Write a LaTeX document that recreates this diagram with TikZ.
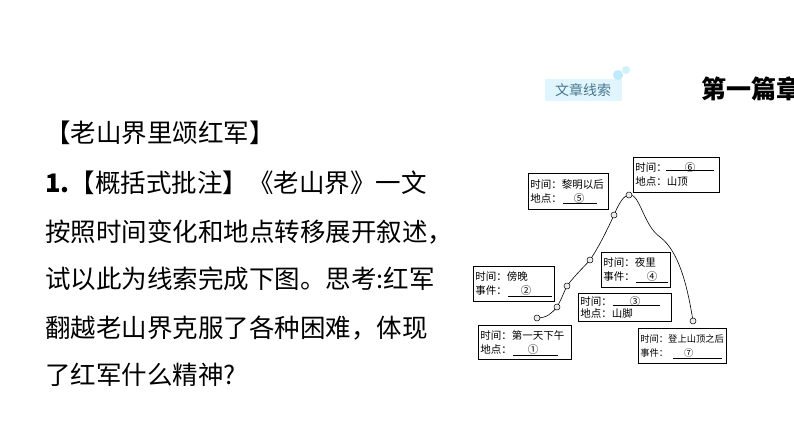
\documentclass[tikz,border=0pt]{standalone}
\usepackage{fontspec}
\newfontfamily\cjk{Noto Sans CJK SC}
\begin{document}
\begin{tikzpicture}[x=1pt,y=-1pt,
  txt/.style={anchor=west,inner sep=0pt,font=\cjk\fontsize{25.5}{28}\selectfont},
  bx/.style={draw,line width=0.6pt,anchor=north west,inner sep=2pt,align=left,font=\cjk\fontsize{10.5}{14}\selectfont},
  dot/.style={circle,draw,fill=gray!15,inner sep=0pt,minimum size=6pt,line width=0.5pt},
  ul/.style={line width=0.5pt}]
\clip (0,0) rectangle (794,447);
\fill[white] (0,0) rectangle (794,447);
% header
\fill[cyan!12] (545,79) rectangle (622,101);
\fill[cyan!25] (618,75) circle (5);
\fill[cyan!18] (626,70) circle (4);
\node[inner sep=0pt,text=cyan!50!black,font=\cjk\fontsize{14}{16}\selectfont] (tag) at (583,90) {文章线索};
\node[anchor=west,inner sep=0pt,font=\cjk\bfseries\fontsize{25}{27}\selectfont] (head) at (701,89) {第一篇章};
% left text
\node[txt] (t0) at (45,133) {【老山界里颂红军】};
\node[txt] (t1) at (45,183) {\textbf{1.}【概括式批注】《老山界》一文};
\node[txt] (t2) at (45,232) {按照时间变化和地点转移展开叙述，};
\node[txt] (t3) at (45,279) {试以此为线索完成下图。思考:红军};
\node[txt] (t4) at (45,328) {翻越老山界克服了各种困难，体现};
\node[txt] (t5) at (45,375) {了红军什么精神?};
% curve
\draw[line width=0.6pt] (537,318) .. controls (547,318) and (552,313) .. (557,307)
  .. controls (561,300) and (564,292) .. (567,286)
  .. controls (575,275) and (583,268) .. (590,260)
  .. controls (600,245) and (608,228) .. (614,215)
  .. controls (619,203) and (624,195) .. (629,195)
  .. controls (640,193) and (643,225) .. (660,237)
  .. controls (680,252) and (688,290) .. (693,321);
\foreach \n/\p in {a/{(537,318)},b/{(557,307)},c/{(567,286)},d/{(590,260)},e/{(614,215)},f/{(629,195)},g/{(693,321)}}
  \node[dot] (\n) at \p {};
% boxes
\node[bx,text width=82pt,minimum height=35pt] (b6) at (633,157) {时间：\hspace{18pt}⑥\\地点：山顶};
\draw[ul] (666,170) -- (714,170);
\node[bx,text width=76pt,minimum height=36pt] (b5) at (528,173) {时间：黎明以后\\地点：\hspace{12pt}⑤};
\draw[ul] (563,203) -- (597,203);
\node[bx,text width=77pt,minimum height=35pt] (b2) at (473,266) {时间：傍晚\\事件：\hspace{14pt}②};
\draw[ul] (508,296) -- (552,296);
\node[bx,text width=65pt,minimum height=35pt] (b4) at (601,252) {时间：夜里\\事件：\hspace{12pt}④};
\draw[ul] (636,282) -- (668,282);
\node[bx,text width=89pt,minimum height=28pt,font=\cjk\fontsize{10.5}{12.5}\selectfont] (b3) at (578,293) {时间：\hspace{18pt}③\\地点：山脚};
\draw[ul] (613,305) -- (660,305);
\node[bx,text width=89pt,minimum height=34pt] (b1) at (478,325) {时间：第一天下午\\地点：\hspace{16pt}①};
\draw[ul] (513,355) -- (558,355);
\node[bx,text width=84pt,minimum height=35pt,font=\cjk\fontsize{9.3}{14}\selectfont] (b7) at (638,328) {时间：登上山顶之后\\事件：\hspace{16pt}⑦};
\draw[ul] (673,358) -- (722,358);
\end{tikzpicture}
\end{document}
